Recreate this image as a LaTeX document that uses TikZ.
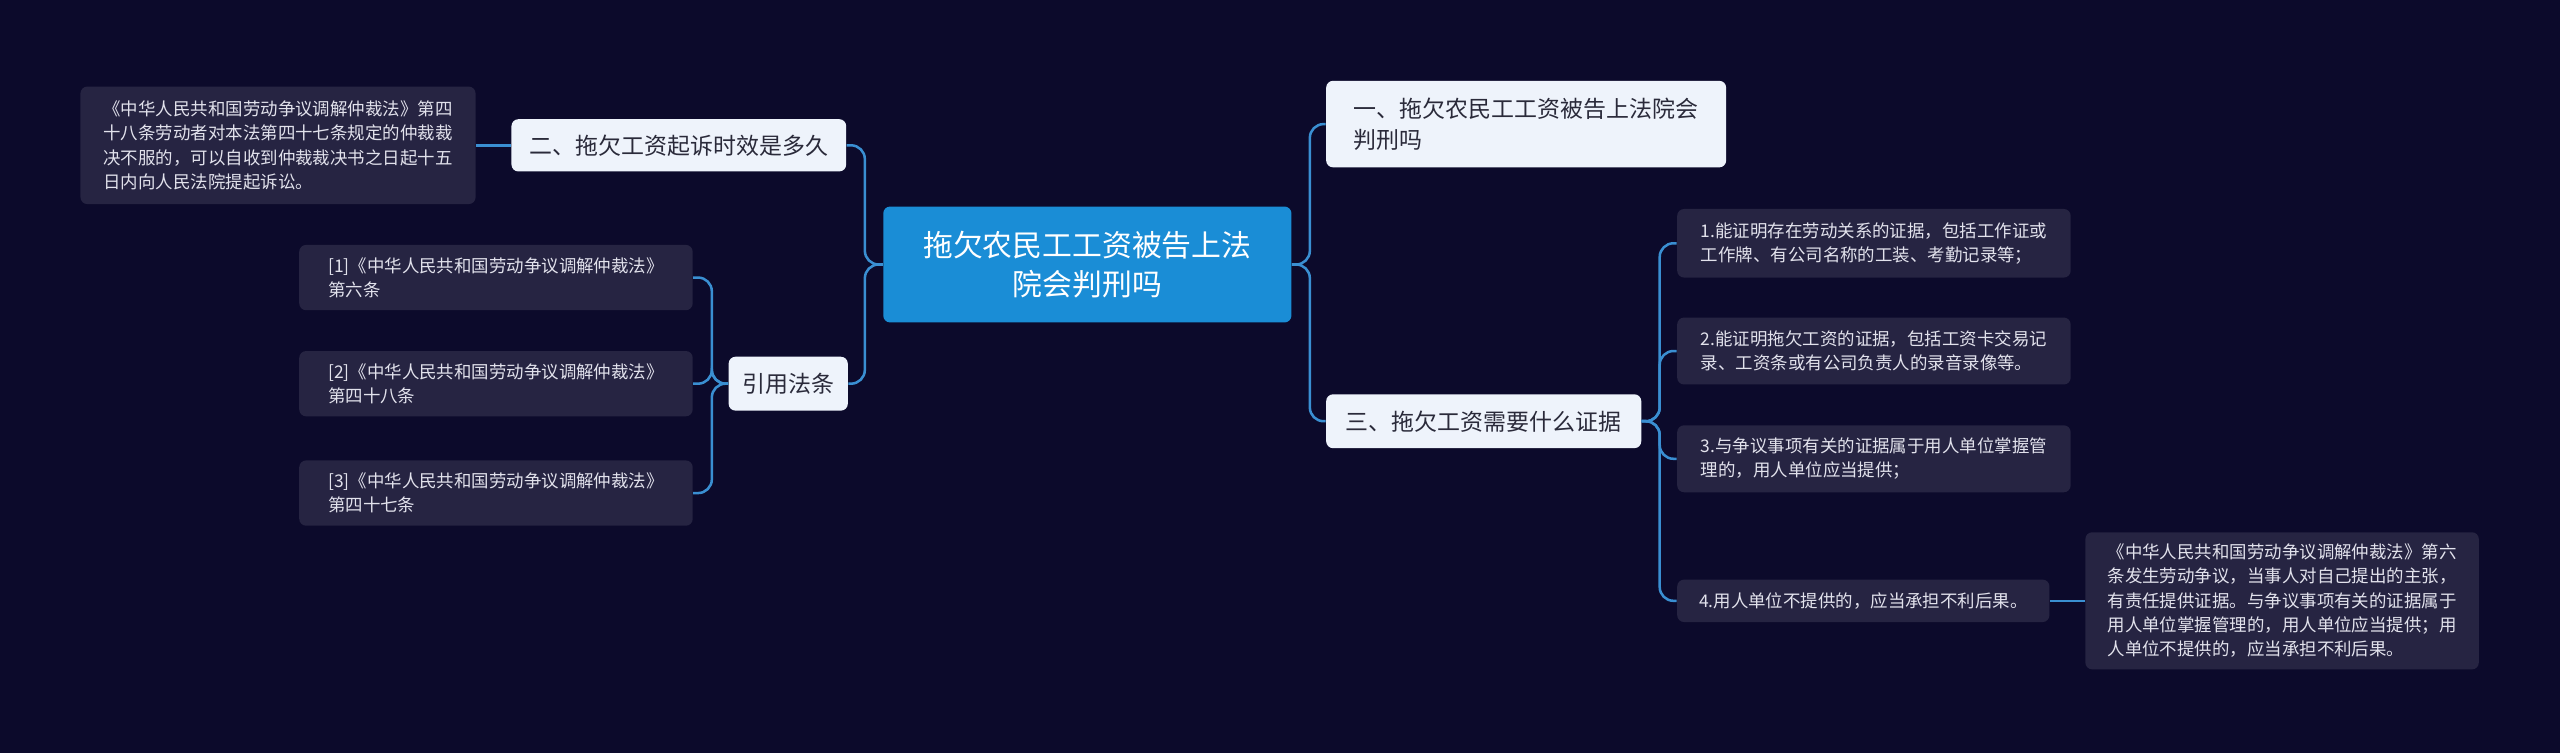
\documentclass[tikz,border=0pt]{standalone}
\usepackage{fontspec}
\setmainfont{Noto Sans CJK SC}
\definecolor{bg}{HTML}{0C0A2B}
\definecolor{ln}{HTML}{3A8FD2}
\definecolor{leaf}{HTML}{262442}
\definecolor{leaftx}{HTML}{E2E2EC}
\definecolor{mid}{HTML}{EEF3FB}
\definecolor{midtx}{HTML}{2A2A3A}
\definecolor{rootc}{HTML}{1A8DD6}
\begin{document}
\begin{tikzpicture}[x=0.025cm,y=-0.025cm,
  conn/.style={draw=ln,line width=1.1pt,rounded corners=6pt},
  leafbox/.style={fill=leaf,text=leaftx,rounded corners=3pt,align=left,font=\fontsize{7.6}{10.6}\selectfont,inner sep=4pt,anchor=west},
  midbox/.style={fill=mid,text=midtx,rounded corners=3pt,align=left,font=\fontsize{10}{13.5}\selectfont,inner sep=5pt,anchor=west},
]
\fill[bg] (0,0) rectangle (1568,461);
\node[fill=rootc,text=white,rounded corners=3pt,align=center,minimum width=250*0.025cm,minimum height=71*0.025cm,font=\fontsize{13}{17}\selectfont] (root) at (666,162) {拖欠农民工工资被告上法\\院会判刑吗};
\node[midbox,minimum width=245*0.025cm,minimum height=53*0.025cm] (n1) at (812,76) {一、拖欠农民工工资被告上法院会\\判刑吗};
\node[midbox,minimum width=193*0.025cm,minimum height=33*0.025cm] (n3) at (812,258) {三、拖欠工资需要什么证据};
\node[midbox,minimum width=205*0.025cm,minimum height=32*0.025cm] (n2) at (313,89) {二、拖欠工资起诉时效是多久};
\node[midbox,minimum width=73*0.025cm,minimum height=33*0.025cm,align=center] (cite) at (446,235) {引用法条};
\node[leafbox,minimum width=242*0.025cm,minimum height=72*0.025cm] (l0) at (49,89) {《中华人民共和国劳动争议调解仲裁法》第四\\十八条劳动者对本法第四十七条规定的仲裁裁\\决不服的，可以自收到仲裁裁决书之日起十五\\日内向人民法院提起诉讼。};
\node[leafbox,minimum width=241*0.025cm,minimum height=40*0.025cm] (r1) at (183,170) {[1]《中华人民共和国劳动争议调解仲裁法》\\第六条};
\node[leafbox,minimum width=241*0.025cm,minimum height=40*0.025cm] (r2) at (183,235) {[2]《中华人民共和国劳动争议调解仲裁法》\\第四十八条};
\node[leafbox,minimum width=241*0.025cm,minimum height=40*0.025cm] (r3) at (183,302) {[3]《中华人民共和国劳动争议调解仲裁法》\\第四十七条};
\node[leafbox,minimum width=241*0.025cm,minimum height=42*0.025cm] (e1) at (1027,149) {1.能证明存在劳动关系的证据，包括工作证或\\工作牌、有公司名称的工装、考勤记录等；};
\node[leafbox,minimum width=241*0.025cm,minimum height=41*0.025cm] (e2) at (1027,215) {2.能证明拖欠工资的证据，包括工资卡交易记\\录、工资条或有公司负责人的录音录像等。};
\node[leafbox,minimum width=241*0.025cm,minimum height=41*0.025cm] (e3) at (1027,281) {3.与争议事项有关的证据属于用人单位掌握管\\理的，用人单位应当提供；};
\node[leafbox,minimum width=228*0.025cm,minimum height=26*0.025cm] (e4) at (1027,368) {4.用人单位不提供的，应当承担不利后果。};
\node[leafbox,minimum width=241*0.025cm,minimum height=84*0.025cm] (e5) at (1277,368) {《中华人民共和国劳动争议调解仲裁法》第六\\条发生劳动争议，当事人对自己提出的主张，\\有责任提供证据。与争议事项有关的证据属于\\用人单位掌握管理的，用人单位应当提供；用\\人单位不提供的，应当承担不利后果。};
\draw[conn] (root.east) -- ++(11,0) |- (n1.west);
\draw[conn] (root.east) -- ++(11,0) |- (n3.west);
\draw[conn] (root.west) -- ++(-11,0) |- (n2.east);
\draw[conn] (root.west) -- ++(-11,0) |- (cite.east);
\draw[conn] (n2.west) -- (l0.east);
\draw[conn] (cite.west) -- ++(-10,0) |- (r1.east);
\draw[conn] (cite.west) -- ++(-10,0) |- (r2.east);
\draw[conn] (cite.west) -- ++(-10,0) |- (r3.east);
\draw[conn] (n3.east) -- ++(11,0) |- (e1.west);
\draw[conn] (n3.east) -- ++(11,0) |- (e2.west);
\draw[conn] (n3.east) -- ++(11,0) |- (e3.west);
\draw[conn] (n3.east) -- ++(11,0) |- (e4.west);
\draw[conn] (e4.east) -- (e5.west);
\end{tikzpicture}
\end{document}
